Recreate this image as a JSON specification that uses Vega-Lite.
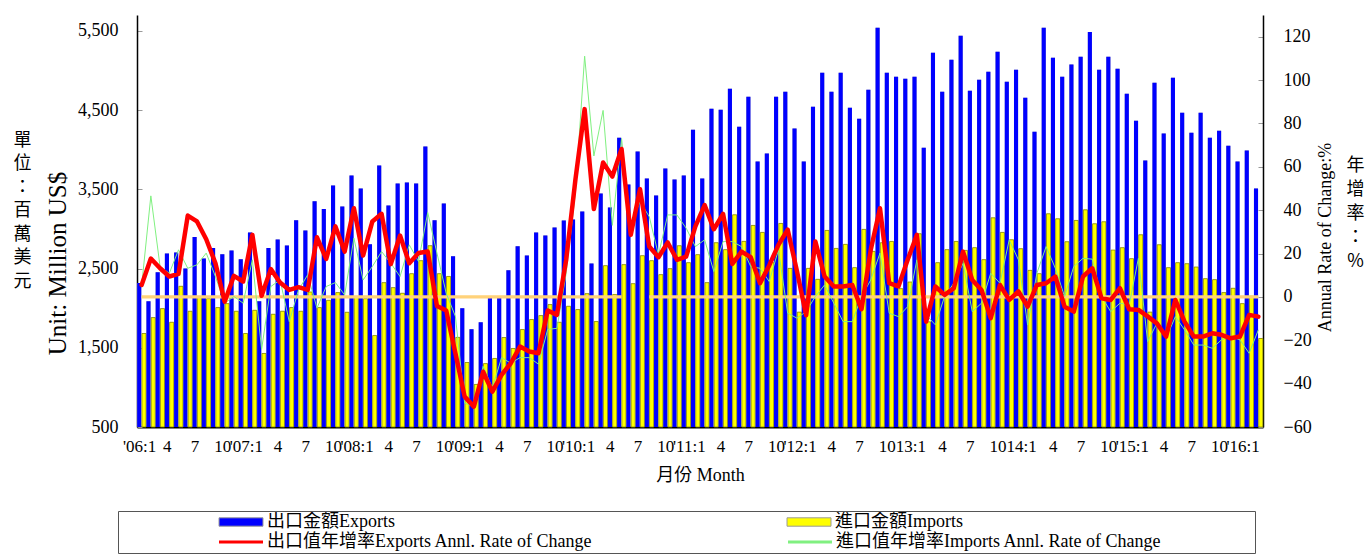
{
  "$schema": "https://vega.github.io/schema/vega-lite/v6.json",
  "width": 1126,
  "height": 412,
  "autosize": "none",
  "padding": {"left": 137, "top": 15, "right": 102, "bottom": 127},
  "background": "white",
  "config": {
    "view": {"stroke": null},
    "font": "Liberation Serif, 'Noto Sans CJK TC'",
    "axis": {
      "grid": false,
      "domainColor": "black",
      "labelColor": "black",
      "titleColor": "black",
      "tickColor": "#9a9a9a",
      "labelFont": "Liberation Serif, 'Noto Sans CJK TC'",
      "titleFont": "Liberation Serif, 'Noto Sans CJK TC'",
      "titleFontWeight": "normal"
    },
    "legend": {
      "labelFont": "Liberation Serif, 'Noto Sans CJK TC'",
      "labelFontSize": 18,
      "labelColor": "black",
      "labelLimit": 2000
    }
  },
  "data": {"values": [
    {"m":"2006-01","exp":2318,"imp":1680,"er":5.5,"ir":5,"z":0},
    {"m":"2006-02","exp":2087,"imp":1881,"er":17.7,"ir":46.6,"z":0},
    {"m":"2006-03","exp":2452,"imp":1994,"er":13.2,"ir":14,"z":0},
    {"m":"2006-04","exp":2691,"imp":1822,"er":9.4,"ir":10.9,"z":0},
    {"m":"2006-05","exp":2704,"imp":2276,"er":10.6,"ir":21.7,"z":0},
    {"m":"2006-06","exp":2500,"imp":1961,"er":37.5,"ir":13.2,"z":0},
    {"m":"2006-07","exp":2897,"imp":2141,"er":34.8,"ir":14.8,"z":0},
    {"m":"2006-08","exp":2628,"imp":2120,"er":26.6,"ir":20.2,"z":0},
    {"m":"2006-09","exp":2759,"imp":2007,"er":15.5,"ir":9.4,"z":0},
    {"m":"2006-10","exp":2679,"imp":2057,"er":-2.2,"ir":-2.9,"z":0},
    {"m":"2006-11","exp":2729,"imp":1961,"er":9.7,"ir":0.2,"z":0},
    {"m":"2006-12","exp":2616,"imp":1680,"er":7.1,"ir":-2.9,"z":0},
    {"m":"2007-01","exp":2956,"imp":1973,"er":28.6,"ir":17.1,"z":0},
    {"m":"2007-02","exp":2087,"imp":1428,"er":0.5,"ir":-24.2,"z":0},
    {"m":"2007-03","exp":2759,"imp":1923,"er":12.8,"ir":4.8,"z":0},
    {"m":"2007-04","exp":2868,"imp":1961,"er":6.6,"ir":7.8,"z":0},
    {"m":"2007-05","exp":2792,"imp":2007,"er":3.2,"ir":-11.4,"z":0},
    {"m":"2007-06","exp":3111,"imp":1961,"er":4.5,"ir":3.2,"z":0},
    {"m":"2007-07","exp":2981,"imp":2204,"er":3.2,"ir":10.2,"z":0},
    {"m":"2007-08","exp":3350,"imp":2007,"er":27.5,"ir":-5.2,"z":0},
    {"m":"2007-09","exp":3250,"imp":2099,"er":17.5,"ir":4.8,"z":0},
    {"m":"2007-10","exp":3548,"imp":2196,"er":32.5,"ir":6.6,"z":0},
    {"m":"2007-11","exp":3283,"imp":1948,"er":20.9,"ir":0.9,"z":0},
    {"m":"2007-12","exp":3674,"imp":2141,"er":40.9,"ir":27.1,"z":0},
    {"m":"2008-01","exp":3510,"imp":2120,"er":19.1,"ir":7.8,"z":0},
    {"m":"2008-02","exp":2805,"imp":1654,"er":34.8,"ir":14,"z":0},
    {"m":"2008-03","exp":3800,"imp":2322,"er":38.3,"ir":20.9,"z":0},
    {"m":"2008-04","exp":3296,"imp":2259,"er":15.1,"ir":15.5,"z":0},
    {"m":"2008-05","exp":3573,"imp":2188,"er":28.3,"ir":9.4,"z":0},
    {"m":"2008-06","exp":3586,"imp":2435,"er":15.5,"ir":24,"z":0},
    {"m":"2008-07","exp":3573,"imp":2599,"er":20.2,"ir":16.3,"z":0},
    {"m":"2008-08","exp":4039,"imp":2788,"er":20.9,"ir":38.9,"z":0},
    {"m":"2008-09","exp":3111,"imp":2435,"er":-4.2,"ir":20.2,"z":0},
    {"m":"2008-10","exp":3321,"imp":2400,"er":-6.3,"ir":1.7,"z":0},
    {"m":"2008-11","exp":2654,"imp":1631,"er":-26,"ir":-9,"z":0},
    {"m":"2008-12","exp":1999,"imp":1314,"er":-46,"ir":-49,"z":0},
    {"m":"2009-01","exp":1734,"imp":1037,"er":-50.6,"ir":-50.6,"z":0},
    {"m":"2009-02","exp":1822,"imp":1300,"er":-34.5,"ir":-32,"z":0},
    {"m":"2009-03","exp":2129,"imp":1365,"er":-43.7,"ir":-42,"z":0},
    {"m":"2009-04","exp":2129,"imp":1629,"er":-36,"ir":-28,"z":0},
    {"m":"2009-05","exp":2477,"imp":1491,"er":-30.6,"ir":-30.6,"z":0},
    {"m":"2009-06","exp":2780,"imp":1730,"er":-22.9,"ir":-28,"z":0},
    {"m":"2009-07","exp":2666,"imp":1856,"er":-25.2,"ir":-28,"z":0},
    {"m":"2009-08","exp":2956,"imp":1906,"er":-26,"ir":-31,"z":0},
    {"m":"2009-09","exp":2918,"imp":2045,"er":-6.3,"ir":-15,"z":0},
    {"m":"2009-10","exp":3019,"imp":1822,"er":-8.3,"ir":-14.5,"z":0},
    {"m":"2009-11","exp":3107,"imp":2024,"er":17.1,"ir":11,"z":0},
    {"m":"2009-12","exp":3120,"imp":1982,"er":54,"ir":48,"z":0},
    {"m":"2010-01","exp":3220,"imp":2183,"er":86.6,"ir":111,"z":0},
    {"m":"2010-02","exp":2565,"imp":1831,"er":40.5,"ir":65,"z":0},
    {"m":"2010-03","exp":3447,"imp":2536,"er":62,"ir":86,"z":0},
    {"m":"2010-04","exp":3271,"imp":2171,"er":55.5,"ir":33,"z":0},
    {"m":"2010-05","exp":4152,"imp":2549,"er":68.2,"ir":73,"z":0},
    {"m":"2010-06","exp":3560,"imp":2309,"er":28.6,"ir":33,"z":null},
    {"m":"2010-07","exp":3976,"imp":2662,"er":49.7,"ir":44,"z":null},
    {"m":"2010-08","exp":3636,"imp":2599,"er":23.2,"ir":37,"z":0},
    {"m":"2010-09","exp":3422,"imp":2423,"er":18.3,"ir":19.4,"z":0},
    {"m":"2010-10","exp":3762,"imp":2498,"er":25.1,"ir":37.8,"z":0},
    {"m":"2010-11","exp":3623,"imp":2788,"er":17.1,"ir":37.8,"z":0},
    {"m":"2010-12","exp":3674,"imp":2574,"er":18.6,"ir":31.7,"z":0},
    {"m":"2011-01","exp":4253,"imp":2675,"er":32.5,"ir":23.2,"z":0},
    {"m":"2011-02","exp":3636,"imp":2322,"er":42.3,"ir":26.3,"z":0},
    {"m":"2011-03","exp":4517,"imp":2826,"er":31.2,"ir":11.7,"z":0},
    {"m":"2011-04","exp":4505,"imp":2738,"er":38.3,"ir":25.5,"z":0},
    {"m":"2011-05","exp":4769,"imp":3178,"er":15.2,"ir":25.5,"z":0},
    {"m":"2011-06","exp":4291,"imp":2843,"er":20.9,"ir":23.2,"z":0},
    {"m":"2011-07","exp":4669,"imp":3044,"er":18.3,"ir":14,"z":0},
    {"m":"2011-08","exp":3850,"imp":2956,"er":6.3,"ir":13.2,"z":0},
    {"m":"2011-09","exp":3951,"imp":2580,"er":14.5,"ir":7.1,"z":0},
    {"m":"2011-10","exp":4669,"imp":3069,"er":24,"ir":21.7,"z":0},
    {"m":"2011-11","exp":4732,"imp":2502,"er":31,"ir":-7.5,"z":0},
    {"m":"2011-12","exp":4266,"imp":1950,"er":12,"ir":-9.8,"z":0},
    {"m":"2012-01","exp":3850,"imp":2502,"er":-8.5,"ir":-6.8,"z":0},
    {"m":"2012-02","exp":4543,"imp":2364,"er":25.5,"ir":0.2,"z":0},
    {"m":"2012-03","exp":4971,"imp":2981,"er":9.4,"ir":5.5,"z":0},
    {"m":"2012-04","exp":4732,"imp":2754,"er":4.8,"ir":-2.9,"z":0},
    {"m":"2012-05","exp":4971,"imp":2805,"er":4.8,"ir":-11.4,"z":0},
    {"m":"2012-06","exp":4530,"imp":2511,"er":5.5,"ir":-11.4,"z":0},
    {"m":"2012-07","exp":4392,"imp":2994,"er":-5.7,"ir":0.2,"z":0},
    {"m":"2012-08","exp":4757,"imp":2717,"er":21.7,"ir":7.8,"z":0},
    {"m":"2012-09","exp":5538,"imp":2826,"er":40.9,"ir":20.2,"z":0},
    {"m":"2012-10","exp":4971,"imp":2842,"er":6.3,"ir":-7.5,"z":0},
    {"m":"2012-11","exp":4920,"imp":2246,"er":4.8,"ir":-9.1,"z":0},
    {"m":"2012-12","exp":4895,"imp":2330,"er":17.1,"ir":-4.5,"z":0},
    {"m":"2013-01","exp":4920,"imp":2939,"er":28.6,"ir":17.1,"z":0},
    {"m":"2013-02","exp":4026,"imp":1827,"er":-11.4,"ir":-8.3,"z":0},
    {"m":"2013-03","exp":5223,"imp":2574,"er":4.8,"ir":-12.9,"z":0},
    {"m":"2013-04","exp":4732,"imp":2738,"er":0.9,"ir":0.2,"z":0},
    {"m":"2013-05","exp":5135,"imp":2842,"er":4,"ir":6.3,"z":0},
    {"m":"2013-06","exp":5437,"imp":2729,"er":20.9,"ir":15.5,"z":0},
    {"m":"2013-07","exp":4744,"imp":2763,"er":7.8,"ir":-6.8,"z":0},
    {"m":"2013-08","exp":4883,"imp":2612,"er":3.2,"ir":-2.9,"z":0},
    {"m":"2013-09","exp":4983,"imp":3140,"er":-9.8,"ir":10.9,"z":0},
    {"m":"2013-10","exp":5235,"imp":2956,"er":5.5,"ir":6.3,"z":0},
    {"m":"2013-11","exp":4858,"imp":2863,"er":-1.4,"ir":26.3,"z":0},
    {"m":"2013-12","exp":5009,"imp":2750,"er":2.5,"ir":17.1,"z":0},
    {"m":"2014-01","exp":4656,"imp":2477,"er":-4.5,"ir":-13,"z":0},
    {"m":"2014-02","exp":4228,"imp":2435,"er":5.5,"ir":10.9,"z":0},
    {"m":"2014-03","exp":5538,"imp":3191,"er":6.3,"ir":23.2,"z":0},
    {"m":"2014-04","exp":5160,"imp":3128,"er":9.4,"ir":13.2,"z":0},
    {"m":"2014-05","exp":4920,"imp":2838,"er":-4.5,"ir":0.2,"z":0},
    {"m":"2014-06","exp":5076,"imp":3107,"er":-6.8,"ir":14,"z":0},
    {"m":"2014-07","exp":5172,"imp":3241,"er":9.4,"ir":17.8,"z":0},
    {"m":"2014-08","exp":5487,"imp":3065,"er":13.2,"ir":17.4,"z":0},
    {"m":"2014-09","exp":5009,"imp":3090,"er":-0.6,"ir":0.2,"z":0},
    {"m":"2014-10","exp":5172,"imp":2733,"er":-1.4,"ir":-6.8,"z":0},
    {"m":"2014-11","exp":5021,"imp":2763,"er":4,"ir":-2.9,"z":0},
    {"m":"2014-12","exp":4706,"imp":2624,"er":-5.7,"ir":-3.7,"z":0},
    {"m":"2015-01","exp":4366,"imp":2926,"er":-6,"ir":17.8,"z":0},
    {"m":"2015-02","exp":3863,"imp":1950,"er":-9,"ir":-20.6,"z":0},
    {"m":"2015-03","exp":4845,"imp":2800,"er":-12.2,"ir":-12.2,"z":0},
    {"m":"2015-04","exp":4203,"imp":2511,"er":-18.3,"ir":-19.1,"z":0},
    {"m":"2015-05","exp":4908,"imp":2574,"er":-1.4,"ir":-9.1,"z":0},
    {"m":"2015-06","exp":4467,"imp":2561,"er":-11.4,"ir":-15.2,"z":0},
    {"m":"2015-07","exp":4215,"imp":2519,"er":-18.3,"ir":-22.2,"z":0},
    {"m":"2015-08","exp":4467,"imp":2372,"er":-18.3,"ir":-22.2,"z":0},
    {"m":"2015-09","exp":4152,"imp":2360,"er":-16.8,"ir":-23.7,"z":0},
    {"m":"2015-10","exp":4240,"imp":2196,"er":-17.5,"ir":-19.8,"z":0},
    {"m":"2015-11","exp":4051,"imp":2251,"er":-19.1,"ir":-18.3,"z":0},
    {"m":"2015-12","exp":3850,"imp":2057,"er":-18.3,"ir":-19.8,"z":0},
    {"m":"2016-01","exp":3989,"imp":2150,"er":-8.3,"ir":-26,"z":0},
    {"m":"2016-02","exp":3510,"imp":1617,"er":-9.1,"ir":-15.2,"z":0}
  ]},
  "encoding": {
    "x": {
      "field": "m",
      "type": "ordinal",
      "scale": {"paddingInner": 0, "paddingOuter": 0},
      "axis": {
        "orient": "bottom",
        "labelExpr": "substring(datum.value,5,7) == '01' ? ((substring(datum.value,0,4) == '2013' || substring(datum.value,0,4) == '2014') ? substring(datum.value,2,4) + ':1' : \"'\" + substring(datum.value,2,4) + ':1') : (indexof(['04','07','10'], substring(datum.value,5,7)) >= 0 ? '' + toNumber(substring(datum.value,5,7)) : '')",
        "labelAngle": 0,
        "labelOverlap": false,
        "labelFontSize": 17,
        "labelPadding": 11,
        "labelOffset": {"condition": {"test": "substring(datum.value,5,7) == '01' && datum.value != '2006-01'", "value": -6}, "value": -2},
        "ticks": false,
        "domainWidth": 2,
        "title": "月份 Month",
        "titleFontSize": 18,
        "titlePadding": 12
      }
    }
  },
  "layer": [
    {
      "transform": [{"fold": ["exp", "imp"], "as": ["key", "value"]}],
      "encoding": {
        "xOffset": {"field": "key", "type": "nominal", "sort": ["exp", "imp"], "scale": {"paddingInner": 0.14, "paddingOuter": 0.04}},
        "y": {
          "field": "value",
          "type": "quantitative",
          "scale": {"domain": [500, 5700], "nice": false, "zero": false},
          "axis": {
            "orient": "left",
            "values": [500, 1500, 2500, 3500, 4500, 5500],
            "format": ",.0f",
            "labelFontSize": 18,
            "labelPadding": 24,
            "tickSize": -5,
            "domainWidth": 1.5,
            "title": "Unit: Million US$",
            "titleFontSize": 25,
            "titleAngle": 270,
            "titleAlign": "center",
            "titleBaseline": "middle",
            "titleX": -80,
            "titleY": 248
          }
        },
        "y2": {"datum": 500}
      },
      "layer": [
        {
          "mark": {"type": "bar", "color": "#a8a8a8", "xOffset": 1.2}
        },
        {
          "mark": {"type": "bar", "stroke": "#8a8a00"},
          "encoding": {
            "fill": {
              "field": "key",
              "type": "nominal",
              "scale": {"domain": ["exp", "imp"], "range": ["#0000ff", "#ffff00"]},
              "legend": {
                "title": null,
                "orient": "none",
                "legendX": -19,
                "legendY": 496,
                "direction": "horizontal",
                "columns": 2,
                "padding": 2,
                "strokeColor": null,
                "fillColor": null,
                "symbolType": "M-4.4,-0.84H4.4V0.84H-4.4Z",
                "symbolSize": 100,
                "symbolStrokeColor": "#9a9a9a",
                "symbolStrokeWidth": 1,
                "symbolOffset": 112,
                "labelOffset": 17,
                "columnPadding": 293,
                "labelExpr": "datum.value == 'exp' ? '出口金額Exports' : '進口金額Imports'"
              }
            },
            "strokeWidth": {"condition": {"test": "datum.key == 'imp'", "value": 0.8}, "value": 0}
          }
        }
      ]
    },
    {
      "mark": {"type": "line", "color": "#ffd27a", "strokeWidth": 3.2, "invalid": "break-paths-show-domains"},
      "encoding": {
        "y": {
          "field": "z",
          "type": "quantitative",
          "scale": {"domain": [-60, 130], "nice": false, "zero": false},
          "axis": {
            "orient": "left",
            "labels": false,
            "ticks": false,
            "domain": false,
            "title": ["單", "位", "：", "百", "萬", "美", "元"],
            "titleAngle": 0,
            "titleFont": "'Noto Sans CJK TC'",
            "titleFontSize": 18,
            "titleLineHeight": 23.5,
            "titleAlign": "center",
            "titleBaseline": "top",
            "titleX": -115,
            "titleY": 116
          }
        }
      }
    },
    {
      "mark": {"type": "line", "strokeWidth": 1},
      "encoding": {
        "y": {
          "field": "ir",
          "type": "quantitative",
          "scale": {"domain": [-60, 130], "nice": false, "zero": false},
          "axis": {
            "orient": "right",
            "labels": false,
            "ticks": false,
            "domain": false,
            "title": ["年", "增", "率", "：", "%"],
            "titleAngle": 0,
            "titleFont": "'Noto Sans CJK TC'",
            "titleFontSize": 18,
            "titleLineHeight": 24,
            "titleAlign": "center",
            "titleBaseline": "top",
            "titleX": 92,
            "titleY": 141
          }
        },
        "stroke": {"datum": "ir"}
      }
    },
    {
      "mark": {"type": "line", "strokeWidth": 4.5, "strokeJoin": "round", "strokeCap": "round"},
      "encoding": {
        "y": {
          "field": "er",
          "type": "quantitative",
          "scale": {"domain": [-60, 130], "nice": false, "zero": false},
          "axis": {
            "orient": "right",
            "values": [-60, -40, -20, 0, 20, 40, 60, 80, 100, 120],
            "labelFontSize": 18,
            "labelPadding": 25,
            "tickSize": -5,
            "domainWidth": 1.5,
            "title": "Annual Rate of Change:%",
            "titleFontSize": 18,
            "titleAngle": 270,
            "titleAlign": "center",
            "titleBaseline": "middle",
            "titleX": 62,
            "titleY": 222
          }
        },
        "stroke": {
          "datum": "er",
          "scale": {"domain": ["er", "ir"], "range": ["#ff0000", "#80f080"]},
          "legend": {
            "title": "⠀",
            "titleFontSize": 18,
            "titlePadding": 2,
            "orient": "none",
            "legendX": -19,
            "legendY": 496,
            "direction": "horizontal",
            "columns": 2,
            "padding": 2,
            "strokeColor": "#555555",
            "fillColor": null,
            "symbolType": "M-4.4,0H4.4",
            "symbolSize": 100,
            "symbolStrokeWidth": 3,
            "symbolOffset": 112,
            "labelOffset": 17,
            "columnPadding": 96,
            "labelExpr": "datum.value == 'er' ? '出口值年增率Exports Annl. Rate of Change' : '進口值年增率Imports Annl. Rate of Change⠀⠀⠀⠀⠀⠀⠀'"
          }
        }
      }
    }
  ],
  "resolve": {"scale": {"y": "independent"}, "axis": {"y": "independent"}}
}
